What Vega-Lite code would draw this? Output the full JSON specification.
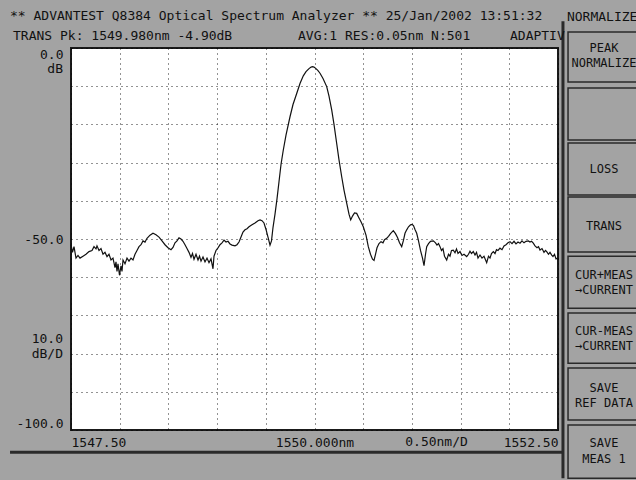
{
  "$schema": "https://vega.github.io/schema/vega-lite/v6.json",
  "width": 487,
  "height": 382,
  "autosize": {"type": "none"},
  "padding": {"left": 71, "top": 48, "right": 78, "bottom": 50},
  "background": "#a3a3a3",
  "config": {
    "view": {"stroke": "#1a1a1a", "strokeWidth": 2, "fill": "white"},
    "font": "DejaVu Sans Mono",
    "text": {"font": "DejaVu Sans Mono", "fontSize": 13, "color": "#111"}
  },
  "datasets": {
    "trace": [
      {"nm": 1547.5000, "dB": -51.5}, {"nm": 1547.5154, "dB": -53.5}, {"nm": 1547.5308, "dB": -52.0}, {"nm": 1547.5513, "dB": -55.0},
      {"nm": 1547.5719, "dB": -54.3}, {"nm": 1547.5924, "dB": -55.0}, {"nm": 1547.6232, "dB": -54.5}, {"nm": 1547.6540, "dB": -54.0},
      {"nm": 1547.6848, "dB": -53.3}, {"nm": 1547.7156, "dB": -53.0}, {"nm": 1547.7361, "dB": -52.0}, {"nm": 1547.7567, "dB": -52.6},
      {"nm": 1547.7669, "dB": -51.8}, {"nm": 1547.7875, "dB": -53.0}, {"nm": 1547.8080, "dB": -52.5}, {"nm": 1547.8285, "dB": -54.0},
      {"nm": 1547.8491, "dB": -53.5}, {"nm": 1547.8696, "dB": -54.6}, {"nm": 1547.8901, "dB": -54.0}, {"nm": 1547.9107, "dB": -55.5},
      {"nm": 1547.9312, "dB": -55.0}, {"nm": 1547.9517, "dB": -57.5}, {"nm": 1547.9620, "dB": -56.0}, {"nm": 1547.9723, "dB": -58.5},
      {"nm": 1547.9825, "dB": -56.5}, {"nm": 1547.9979, "dB": -59.5}, {"nm": 1548.0133, "dB": -57.0}, {"nm": 1548.0236, "dB": -58.5},
      {"nm": 1548.0339, "dB": -55.5}, {"nm": 1548.0544, "dB": -56.5}, {"nm": 1548.0749, "dB": -55.0}, {"nm": 1548.0955, "dB": -55.8},
      {"nm": 1548.1160, "dB": -55.0}, {"nm": 1548.1366, "dB": -55.5}, {"nm": 1548.1571, "dB": -54.0}, {"nm": 1548.1776, "dB": -53.0},
      {"nm": 1548.1982, "dB": -52.0}, {"nm": 1548.2187, "dB": -51.5}, {"nm": 1548.2392, "dB": -50.5}, {"nm": 1548.2598, "dB": -50.8},
      {"nm": 1548.2803, "dB": -49.8}, {"nm": 1548.3111, "dB": -49.0}, {"nm": 1548.3419, "dB": -48.5}, {"nm": 1548.3727, "dB": -48.9},
      {"nm": 1548.4035, "dB": -49.5}, {"nm": 1548.4343, "dB": -50.5}, {"nm": 1548.4651, "dB": -51.5}, {"nm": 1548.4959, "dB": -52.3},
      {"nm": 1548.5267, "dB": -52.8}, {"nm": 1548.5472, "dB": -52.2}, {"nm": 1548.5678, "dB": -51.0}, {"nm": 1548.5883, "dB": -50.5},
      {"nm": 1548.6088, "dB": -49.7}, {"nm": 1548.6294, "dB": -50.0}, {"nm": 1548.6499, "dB": -50.6}, {"nm": 1548.6704, "dB": -51.5},
      {"nm": 1548.6910, "dB": -52.5}, {"nm": 1548.7115, "dB": -53.5}, {"nm": 1548.7320, "dB": -54.8}, {"nm": 1548.7474, "dB": -53.8},
      {"nm": 1548.7628, "dB": -55.3}, {"nm": 1548.7834, "dB": -54.0}, {"nm": 1548.8039, "dB": -55.5}, {"nm": 1548.8193, "dB": -54.5},
      {"nm": 1548.8347, "dB": -55.8}, {"nm": 1548.8552, "dB": -54.7}, {"nm": 1548.8758, "dB": -56.0}, {"nm": 1548.8963, "dB": -55.0},
      {"nm": 1548.9168, "dB": -56.2}, {"nm": 1548.9374, "dB": -55.2}, {"nm": 1548.9579, "dB": -57.8}, {"nm": 1548.9682, "dB": -54.5},
      {"nm": 1548.9887, "dB": -53.0}, {"nm": 1549.0092, "dB": -52.3}, {"nm": 1549.0298, "dB": -51.5}, {"nm": 1549.0503, "dB": -51.0},
      {"nm": 1549.0709, "dB": -50.3}, {"nm": 1549.0914, "dB": -50.8}, {"nm": 1549.1119, "dB": -50.6}, {"nm": 1549.1325, "dB": -51.3},
      {"nm": 1549.1530, "dB": -51.6}, {"nm": 1549.1838, "dB": -51.8}, {"nm": 1549.2043, "dB": -51.5}, {"nm": 1549.2249, "dB": -50.8},
      {"nm": 1549.2454, "dB": -49.5}, {"nm": 1549.2659, "dB": -48.2}, {"nm": 1549.2865, "dB": -47.6}, {"nm": 1549.3070, "dB": -47.3},
      {"nm": 1549.3275, "dB": -46.8}, {"nm": 1549.3583, "dB": -46.3}, {"nm": 1549.3891, "dB": -45.8}, {"nm": 1549.4199, "dB": -45.2},
      {"nm": 1549.4405, "dB": -45.0}, {"nm": 1549.4610, "dB": -45.2}, {"nm": 1549.4815, "dB": -45.8}, {"nm": 1549.5021, "dB": -47.5},
      {"nm": 1549.5226, "dB": -49.5}, {"nm": 1549.5431, "dB": -51.6}, {"nm": 1549.5585, "dB": -50.5}, {"nm": 1549.5739, "dB": -47.0},
      {"nm": 1549.5945, "dB": -43.5}, {"nm": 1549.6150, "dB": -39.5}, {"nm": 1549.6355, "dB": -35.0}, {"nm": 1549.6561, "dB": -30.5},
      {"nm": 1549.6797, "dB": -26.7}, {"nm": 1549.7074, "dB": -22.8}, {"nm": 1549.7485, "dB": -18.0}, {"nm": 1549.7793, "dB": -14.8},
      {"nm": 1549.8173, "dB": -11.9}, {"nm": 1549.8511, "dB": -9.3}, {"nm": 1549.8850, "dB": -7.3}, {"nm": 1549.9127, "dB": -6.2},
      {"nm": 1549.9435, "dB": -5.4}, {"nm": 1549.9650, "dB": -5.0}, {"nm": 1549.9800, "dB": -4.9}, {"nm": 1549.9949, "dB": -5.0},
      {"nm": 1550.0154, "dB": -5.4}, {"nm": 1550.0359, "dB": -5.9}, {"nm": 1550.0565, "dB": -6.6}, {"nm": 1550.0873, "dB": -8.0},
      {"nm": 1550.1253, "dB": -10.1}, {"nm": 1550.1489, "dB": -12.6}, {"nm": 1550.1766, "dB": -16.2}, {"nm": 1550.2002, "dB": -20.0},
      {"nm": 1550.2279, "dB": -25.0}, {"nm": 1550.2516, "dB": -29.3}, {"nm": 1550.2793, "dB": -33.7}, {"nm": 1550.3029, "dB": -37.2},
      {"nm": 1550.3306, "dB": -40.6}, {"nm": 1550.3542, "dB": -43.5}, {"nm": 1550.3717, "dB": -45.0}, {"nm": 1550.3902, "dB": -44.0},
      {"nm": 1550.4107, "dB": -43.2}, {"nm": 1550.4333, "dB": -43.3}, {"nm": 1550.4569, "dB": -44.5}, {"nm": 1550.4774, "dB": -45.5},
      {"nm": 1550.5010, "dB": -46.8}, {"nm": 1550.5288, "dB": -49.0}, {"nm": 1550.5524, "dB": -52.0}, {"nm": 1550.5750, "dB": -54.0},
      {"nm": 1550.5955, "dB": -55.3}, {"nm": 1550.6109, "dB": -55.6}, {"nm": 1550.6263, "dB": -54.0}, {"nm": 1550.6417, "dB": -52.3},
      {"nm": 1550.6622, "dB": -51.2}, {"nm": 1550.6828, "dB": -50.7}, {"nm": 1550.7033, "dB": -51.0}, {"nm": 1550.7187, "dB": -50.2},
      {"nm": 1550.7413, "dB": -49.8}, {"nm": 1550.7598, "dB": -49.3}, {"nm": 1550.7803, "dB": -48.6}, {"nm": 1550.8091, "dB": -47.8},
      {"nm": 1550.8316, "dB": -48.6}, {"nm": 1550.8522, "dB": -49.6}, {"nm": 1550.8727, "dB": -51.0}, {"nm": 1550.8953, "dB": -52.0},
      {"nm": 1550.9138, "dB": -50.3}, {"nm": 1550.9292, "dB": -48.5}, {"nm": 1550.9466, "dB": -47.6}, {"nm": 1550.9651, "dB": -46.8},
      {"nm": 1550.9856, "dB": -46.3}, {"nm": 1551.0010, "dB": -46.2}, {"nm": 1551.0164, "dB": -46.5}, {"nm": 1551.0318, "dB": -47.5},
      {"nm": 1551.0493, "dB": -48.5}, {"nm": 1551.0678, "dB": -50.5}, {"nm": 1551.0883, "dB": -53.0}, {"nm": 1551.1089, "dB": -55.0},
      {"nm": 1551.1243, "dB": -57.0}, {"nm": 1551.1397, "dB": -54.0}, {"nm": 1551.1520, "dB": -52.0}, {"nm": 1551.1705, "dB": -51.2},
      {"nm": 1551.1910, "dB": -50.6}, {"nm": 1551.2197, "dB": -50.5}, {"nm": 1551.2423, "dB": -51.0}, {"nm": 1551.2577, "dB": -51.6},
      {"nm": 1551.2731, "dB": -51.2}, {"nm": 1551.2885, "dB": -52.0}, {"nm": 1551.3039, "dB": -53.0}, {"nm": 1551.3193, "dB": -52.5},
      {"nm": 1551.3347, "dB": -54.5}, {"nm": 1551.3573, "dB": -55.5}, {"nm": 1551.3758, "dB": -54.0}, {"nm": 1551.3912, "dB": -54.5},
      {"nm": 1551.4066, "dB": -53.0}, {"nm": 1551.4251, "dB": -52.9}, {"nm": 1551.4425, "dB": -53.6}, {"nm": 1551.4579, "dB": -52.6},
      {"nm": 1551.4733, "dB": -53.8}, {"nm": 1551.4939, "dB": -53.3}, {"nm": 1551.5144, "dB": -54.3}, {"nm": 1551.5349, "dB": -54.0},
      {"nm": 1551.5627, "dB": -54.6}, {"nm": 1551.5811, "dB": -54.0}, {"nm": 1551.5965, "dB": -53.2}, {"nm": 1551.6119, "dB": -53.8},
      {"nm": 1551.6304, "dB": -53.3}, {"nm": 1551.6479, "dB": -54.2}, {"nm": 1551.6633, "dB": -53.5}, {"nm": 1551.6787, "dB": -55.0},
      {"nm": 1551.6992, "dB": -54.2}, {"nm": 1551.7197, "dB": -55.0}, {"nm": 1551.7403, "dB": -54.5}, {"nm": 1551.7680, "dB": -56.2},
      {"nm": 1551.7865, "dB": -54.5}, {"nm": 1551.8019, "dB": -55.0}, {"nm": 1551.8173, "dB": -53.8}, {"nm": 1551.8358, "dB": -53.3},
      {"nm": 1551.8532, "dB": -53.8}, {"nm": 1551.8686, "dB": -52.8}, {"nm": 1551.8840, "dB": -53.0}, {"nm": 1551.9045, "dB": -52.4},
      {"nm": 1551.9251, "dB": -52.8}, {"nm": 1551.9456, "dB": -51.8}, {"nm": 1551.9661, "dB": -51.5}, {"nm": 1551.9867, "dB": -51.0},
      {"nm": 1552.0072, "dB": -50.7}, {"nm": 1552.0277, "dB": -51.2}, {"nm": 1552.0483, "dB": -50.6}, {"nm": 1552.0688, "dB": -51.3},
      {"nm": 1552.0894, "dB": -50.8}, {"nm": 1552.1099, "dB": -51.1}, {"nm": 1552.1304, "dB": -50.5}, {"nm": 1552.1510, "dB": -51.0},
      {"nm": 1552.1715, "dB": -50.6}, {"nm": 1552.1951, "dB": -50.5}, {"nm": 1552.2125, "dB": -50.8}, {"nm": 1552.2279, "dB": -50.6},
      {"nm": 1552.2464, "dB": -51.1}, {"nm": 1552.2639, "dB": -51.8}, {"nm": 1552.2844, "dB": -52.3}, {"nm": 1552.2998, "dB": -52.0},
      {"nm": 1552.3152, "dB": -52.9}, {"nm": 1552.3357, "dB": -52.5}, {"nm": 1552.3563, "dB": -53.5}, {"nm": 1552.3717, "dB": -53.0},
      {"nm": 1552.3840, "dB": -53.3}, {"nm": 1552.4025, "dB": -54.0}, {"nm": 1552.4179, "dB": -53.5}, {"nm": 1552.4354, "dB": -54.2},
      {"nm": 1552.4487, "dB": -54.6}, {"nm": 1552.4641, "dB": -54.0}, {"nm": 1552.4795, "dB": -55.2}, {"nm": 1552.4949, "dB": -55.0},
      {"nm": 1552.5000, "dB": -55.5}
    ],
    "buttons": [
      {"nm1": 1552.603, "nm2": 1553.34, "dB1": 4.2, "dB2": -8.9},
      {"nm1": 1552.603, "nm2": 1553.34, "dB1": -10.5, "dB2": -24.1},
      {"nm1": 1552.603, "nm2": 1553.34, "dB1": -24.9, "dB2": -38.5},
      {"nm1": 1552.603, "nm2": 1553.34, "dB1": -39.0, "dB2": -53.4},
      {"nm1": 1552.603, "nm2": 1553.34, "dB1": -54.5, "dB2": -68.1},
      {"nm1": 1552.603, "nm2": 1553.34, "dB1": -69.4, "dB2": -82.5},
      {"nm1": 1552.603, "nm2": 1553.34, "dB1": -83.8, "dB2": -97.4},
      {"nm1": 1552.603, "nm2": 1553.34, "dB1": -98.7, "dB2": -112.6}
    ],
    "lines": [
      {"nm1": 1552.551, "nm2": 1552.551, "dB1": 7.0, "dB2": -112.6},
      {"nm1": 1546.874, "nm2": 1552.551, "dB1": -105.8, "dB2": -105.8}
    ],
    "leftText": [
      {"nm": 1546.874, "dB": 8.4, "text": "** ADVANTEST Q8384 Optical Spectrum Analyzer **  25/Jan/2002 13:51:32"},
      {"nm": 1546.905, "dB": 3.1, "text": "TRANS Pk: 1549.980nm -4.90dB"},
      {"nm": 1549.831, "dB": 3.1, "text": "AVG:1  RES:0.05nm N:501"},
      {"nm": 1552.007, "dB": 3.1, "text": "ADAPTIV"},
      {"nm": 1552.592, "dB": 8.0, "text": "NORMALIZE"}
    ],
    "axisText": [
      {"nm": 1551.253, "dB": -103.1, "text": "0.50nm/D"}
    ],
    "buttonText": [
      {"nm": 1552.972, "dB": 0.1, "text": "PEAK"},
      {"nm": 1552.972, "dB": -3.9, "text": "NORMALIZE"},
      {"nm": 1552.972, "dB": -31.7, "text": "LOSS"},
      {"nm": 1552.972, "dB": -46.6, "text": "TRANS"},
      {"nm": 1552.972, "dB": -59.5, "text": "CUR+MEAS"},
      {"nm": 1552.972, "dB": -63.3, "text": "→CURRENT"},
      {"nm": 1552.972, "dB": -74.0, "text": "CUR-MEAS"},
      {"nm": 1552.972, "dB": -78.0, "text": "→CURRENT"},
      {"nm": 1552.972, "dB": -88.9, "text": "SAVE"},
      {"nm": 1552.972, "dB": -92.9, "text": "REF DATA"},
      {"nm": 1552.972, "dB": -103.3, "text": "SAVE"},
      {"nm": 1552.972, "dB": -107.6, "text": "MEAS 1"}
    ],
    "rightText": [
      {"nm": 1547.418, "dB": -5.6, "text": "dB"},
      {"nm": 1547.418, "dB": -76.2, "text": "10.0"},
      {"nm": 1547.418, "dB": -80.1, "text": "dB/D"}
    ]
  },
  "encoding": {
    "x": {
      "field": "nm", "type": "quantitative",
      "scale": {"domain": [1547.5, 1552.5], "nice": false, "zero": false},
      "axis": {
        "title": null,
        "values": [1547.5, 1548, 1548.5, 1549, 1549.5, 1550, 1550.5, 1551, 1551.5, 1552, 1552.5],
        "labelExpr": "datum.value == 1547.5 ? '1547.50' : datum.value == 1550 ? '1550.000nm' : datum.value == 1552.5 ? '1552.50' : ''",
        "labelFlush": true,
        "labelFont": "DejaVu Sans Mono", "labelFontSize": 13, "labelColor": "#111",
        "labelPadding": 6, "labelOverlap": false,
        "domain": false, "ticks": false,
        "grid": true, "gridColor": "#000", "gridDash": [1, 4], "gridOpacity": 0.85
      }
    },
    "y": {
      "field": "dB", "type": "quantitative",
      "scale": {"domain": [-100, 0], "nice": false, "zero": false},
      "axis": {
        "title": null,
        "values": [-100, -90, -80, -70, -60, -50, -40, -30, -20, -10, 0],
        "labelExpr": "datum.value == 0 ? '0.0' : datum.value == -50 ? '-50.0' : datum.value == -100 ? '-100.0' : ''",
        "labelFlush": true,
        "labelFont": "DejaVu Sans Mono", "labelFontSize": 13, "labelColor": "#111",
        "labelPadding": 8, "labelOverlap": false,
        "domain": false, "ticks": false,
        "grid": true, "gridColor": "#000", "gridDash": [1, 4], "gridOpacity": 0.85
      }
    }
  },
  "layer": [
    {
      "data": {"name": "buttons"},
      "mark": {"type": "rect", "fill": "#a3a3a3", "stroke": "#2a2a2a", "strokeWidth": 1.5},
      "encoding": {
        "x": {"field": "nm1", "type": "quantitative"},
        "x2": {"field": "nm2"},
        "y": {"field": "dB1", "type": "quantitative"},
        "y2": {"field": "dB2"}
      }
    },
    {
      "data": {"name": "lines"},
      "mark": {"type": "rule", "color": "#2a2a2a", "strokeWidth": 3},
      "encoding": {
        "x": {"field": "nm1", "type": "quantitative"},
        "x2": {"field": "nm2"},
        "y": {"field": "dB1", "type": "quantitative"},
        "y2": {"field": "dB2"}
      }
    },
    {
      "data": {"name": "trace"},
      "mark": {"type": "line", "color": "#111", "strokeWidth": 1.2, "interpolate": "linear"}
    },
    {
      "data": {"name": "leftText"},
      "mark": {"type": "text", "align": "left", "baseline": "middle"},
      "encoding": {"text": {"field": "text"}}
    },
    {
      "data": {"name": "axisText"},
      "mark": {"type": "text", "align": "center", "baseline": "middle"},
      "encoding": {"text": {"field": "text"}}
    },
    {
      "data": {"name": "buttonText"},
      "mark": {"type": "text", "align": "center", "baseline": "middle", "fontSize": 12},
      "encoding": {"text": {"field": "text"}}
    },
    {
      "data": {"name": "rightText"},
      "mark": {"type": "text", "align": "right", "baseline": "middle"},
      "encoding": {"text": {"field": "text"}}
    }
  ]
}
